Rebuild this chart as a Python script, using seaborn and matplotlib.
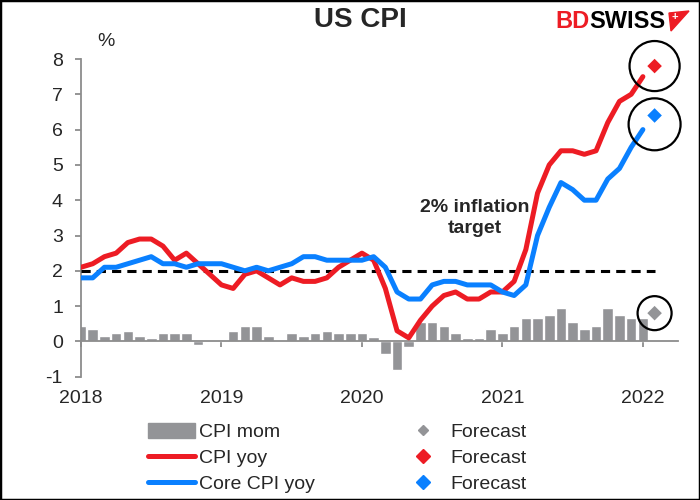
import numpy as np
import pandas as pd
import matplotlib.pyplot as plt
import matplotlib.transforms as mtransforms
from matplotlib.lines import Line2D
from matplotlib.patches import Patch, Polygon, Rectangle
import seaborn as sns

sns.set_style('white')
plt.rcParams['font.family'] = ['Liberation Sans', 'DejaVu Sans']
plt.rcParams['axes.unicode_minus'] = False

# monthly data, Jan 2018 - Jan 2022
cpi_mom = [0.45, 0.35, 0.15, 0.25, 0.3, 0.15, 0.1, 0.25, 0.25, 0.25, -0.1, 0.0,
           0.0, 0.3, 0.45, 0.45, 0.15, 0.0, 0.25, 0.15, 0.25, 0.3, 0.25, 0.25,
           0.25, 0.12, -0.35, -0.8, -0.15, 0.55, 0.55, 0.45, 0.25, 0.1, 0.1, 0.35,
           0.25, 0.45, 0.65, 0.65, 0.75, 0.95, 0.55, 0.35, 0.45, 0.95, 0.75, 0.65,
           0.65]
cpi_yoy = [2.1, 2.2, 2.4, 2.5, 2.8, 2.9, 2.9, 2.7, 2.3, 2.5, 2.2, 1.9,
           1.6, 1.5, 1.9, 2.0, 1.8, 1.6, 1.8, 1.7, 1.7, 1.8, 2.1, 2.3,
           2.5, 2.3, 1.5, 0.3, 0.1, 0.6, 1.0, 1.3, 1.4, 1.2, 1.2, 1.4,
           1.4, 1.7, 2.6, 4.2, 5.0, 5.4, 5.4, 5.3, 5.4, 6.2, 6.8, 7.0,
           7.5]
core_yoy = [1.8, 1.8, 2.1, 2.1, 2.2, 2.3, 2.4, 2.2, 2.2, 2.1, 2.2, 2.2,
            2.2, 2.1, 2.0, 2.1, 2.0, 2.1, 2.2, 2.4, 2.4, 2.3, 2.3, 2.3,
            2.3, 2.4, 2.1, 1.4, 1.2, 1.2, 1.6, 1.7, 1.7, 1.6, 1.6, 1.6,
            1.4, 1.3, 1.6, 3.0, 3.8, 4.5, 4.3, 4.0, 4.0, 4.6, 4.9, 5.5,
            6.0]
# Feb 2022 forecasts
fc_mom = 0.8
fc_yoy = 7.8
fc_core = 6.4
years = ['2018', '2019', '2020', '2021', '2022']
target = 2

RED = '#ED1C24'
BLUE = '#0A80FF'
GREY = '#939497'
AXIS = '#8C8C8C'

months = np.arange(len(cpi_yoy))
fc_month = months[-1] + 1
df = pd.DataFrame({'month': months, 'mom': cpi_mom, 'yoy': cpi_yoy, 'core': core_yoy})

fig = plt.figure(figsize=(7, 5), dpi=100)
ax = fig.add_axes([81 / 700, 123.3 / 500, 597 / 700, 317.7 / 500])

sns.barplot(data=df, x='month', y='mom', native_scale=True, color=GREY, saturation=1,
            width=0.9, errorbar=None, ax=ax, zorder=2)
ax.hlines(target, months[0], fc_month, colors='black', linestyles=(0, (3, 2)), lw=2.2, zorder=3)
sns.lineplot(data=df, x='month', y='yoy', color=RED, lw=3.6, ax=ax, zorder=4,
             solid_capstyle='round', solid_joinstyle='round')
sns.lineplot(data=df, x='month', y='core', color=BLUE, lw=3.6, ax=ax, zorder=4,
             solid_capstyle='round', solid_joinstyle='round')
sns.scatterplot(x=[fc_month] * 3, y=[fc_mom, fc_yoy, fc_core], hue=['m', 'y', 'c'],
                palette=[GREY, RED, BLUE], marker='D', s=55, linewidth=0, legend=False,
                ax=ax, zorder=5, clip_on=False)
# highlight circles
ax.scatter([fc_month] * 3, [fc_mom, fc_yoy, fc_core - 0.25], s=[600, 1300, 1400],
           facecolors='none', edgecolors='black', linewidths=1.6, zorder=6, clip_on=False)

ax.set_xlim(0, 51)
ax.set_ylim(-1, 8)
ax.set_yticks(range(-1, 9))
ax.set_xticks(months[::12])
ax.set_xlabel('')
ax.set_ylabel('')
for s in ['top', 'right']:
    ax.spines[s].set_visible(False)
ax.spines['bottom'].set_position(('data', 0))
for s in ['left', 'bottom']:
    ax.spines[s].set_color(AXIS)
    ax.spines[s].set_linewidth(1.3)
ax.tick_params(axis='y', direction='out', length=4, width=1.3, color=AXIS, pad=9,
               labelsize=14, left=True)
ax.tick_params(axis='x', direction='out', length=4, width=1.3, color=AXIS,
               labelbottom=False, bottom=True)
trans = mtransforms.blended_transform_factory(ax.transData, ax.transAxes)
for x, lab in zip(months[::12], years):
    ax.text(x, -0.07, lab, transform=trans, ha='center', va='center', fontsize=14)

ax.text(33.6, 3.5, '2% inflation\ntarget', ha='center', va='center', fontsize=14,
        fontweight='bold', linespacing=1.3)

fig.text(106 / 700, 1 - 41 / 500, '%', ha='center', va='center', fontsize=14)
fig.text(360 / 700, 1 - 20 / 500, 'US CPI', ha='center', va='center', fontsize=20,
         fontweight='bold')

# logo
fig.text(555 / 700, 1 - 22 / 500, 'BD', color=RED, fontsize=17, fontweight='bold',
         ha='left', va='center')
fig.text(589 / 700, 1 - 22 / 500, 'SWISS', color='black', fontsize=17, fontweight='bold',
         ha='left', va='center')
flag = [(669, 13), (689, 11), (671, 31)]
fig.add_artist(Polygon([(px / 700, 1 - py / 500) for px, py in flag], closed=True,
                       transform=fig.transFigure, color=RED))
fig.text(675 / 700, 1 - 17 / 500, '+', color='white', fontsize=8, fontweight='bold',
         ha='center', va='center')

handles = [Patch(color=GREY),
           Line2D([], [], color=RED, lw=3.6, solid_capstyle='round'),
           Line2D([], [], color=BLUE, lw=3.6, solid_capstyle='round'),
           Line2D([], [], color=GREY, marker='D', ms=5.5, lw=0),
           Line2D([], [], color=RED, marker='D', ms=7, lw=0),
           Line2D([], [], color=BLUE, marker='D', ms=7, lw=0)]
labels = ['CPI mom', 'CPI yoy', 'Core CPI yoy', 'Forecast', 'Forecast', 'Forecast']
fig.legend(handles, labels, ncol=2, loc='upper left', bbox_to_anchor=(148 / 700, 1 - 423 / 500),
           frameon=False, fontsize=14, handlelength=2.4, handleheight=0.8, handletextpad=0.2,
           columnspacing=4.4, labelspacing=0.4, borderpad=0, borderaxespad=0)

fig.add_artist(Rectangle((0, 0), 1, 1, transform=fig.transFigure, fill=False,
                         edgecolor='black', lw=2.5))

fig.savefig('out.png', dpi=100)
